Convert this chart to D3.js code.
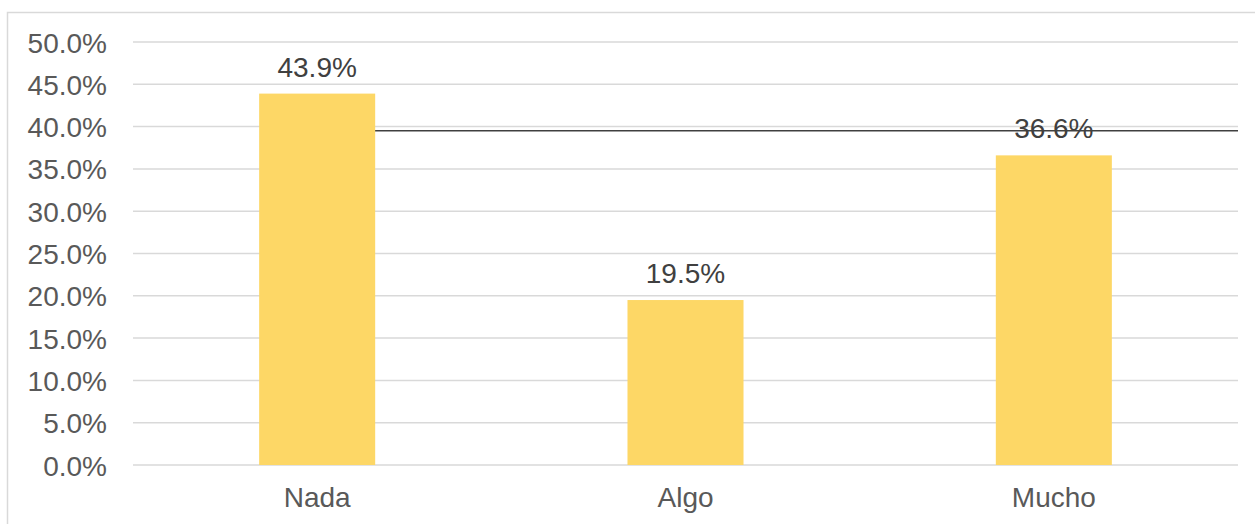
<!DOCTYPE html>
<html>
<head>
<meta charset="utf-8">
<script src="https://cdn.jsdelivr.net/npm/d3@7"></script>
<style>
  body { margin: 0; background: #fff; }
  text { font-family: "Liberation Sans", Arial, sans-serif; }
</style>
</head>
<body>
<div id="chart"></div>
<script>
const width = 1255,
  height = 524,
  margin = { top: 42, bottom: 59, left: 133, right: 17 },
  fontSize = 28;

// data
const categories = ["Nada", "Algo", "Mucho"];
const values = [43.9, 19.5, 36.6];
const refValue = 39.5;
const yTicks = [0, 5, 10, 15, 20, 25, 30, 35, 40, 45, 50];

const svg = d3.select("#chart")
  .append("svg")
  .attr("width", width)
  .attr("height", height);

// chart border
svg.append("rect")
  .attr("x", 7.5)
  .attr("y", 12.5)
  .attr("width", 1260)
  .attr("height", 540)
  .attr("fill", "none")
  .attr("stroke", "#d9d9d9")
  .attr("stroke-width", 1.5);

/* SCALES */
const xScale = d3.scaleBand()
  .domain(categories)
  .range([margin.left, width - margin.right])
  .paddingInner(0.685)
  .paddingOuter(0.3425);

const yScale = d3.scaleLinear()
  .domain([0, 50])
  .range([height - margin.bottom, margin.top]);

// gridlines
svg.append("g")
  .selectAll("line")
  .data(yTicks)
  .join("line")
  .attr("x1", margin.left)
  .attr("x2", width - margin.right)
  .attr("y1", d => yScale(d))
  .attr("y2", d => yScale(d))
  .attr("stroke", "#d9d9d9")
  .attr("stroke-width", 1.5);

// y axis
const yAxis = d3.axisLeft(yScale)
  .tickValues(yTicks)
  .tickSize(0)
  .tickPadding(26)
  .tickFormat(d => d.toFixed(1) + "%");

const yAxisGroup = svg.append("g")
  .attr("transform", `translate(${margin.left}, 0)`)
  .call(yAxis);
yAxisGroup.select(".domain").remove();
yAxisGroup.selectAll("text")
  .attr("font-size", fontSize)
  .attr("dy", "0.36em")
  .attr("fill", "#595959")
  .attr("font-family", "Liberation Sans, Arial, sans-serif");

// x axis
const xAxis = d3.axisBottom(xScale).tickSize(0).tickPadding(22);
const xAxisGroup = svg.append("g")
  .attr("transform", `translate(0, ${height - margin.bottom})`)
  .call(xAxis);
xAxisGroup.select(".domain").remove();
xAxisGroup.selectAll("text")
  .attr("font-size", fontSize)
  .attr("fill", "#595959")
  .attr("font-family", "Liberation Sans, Arial, sans-serif");

// value labels
svg.append("g")
  .selectAll("text")
  .data(categories)
  .join("text")
  .attr("x", d => xScale(d) + xScale.bandwidth() / 2)
  .attr("y", (d, i) => yScale(values[i]) - 17)
  .attr("text-anchor", "middle")
  .attr("font-size", fontSize)
  .attr("fill", "#404040")
  .text((d, i) => values[i].toFixed(1) + "%");

// reference line
svg.append("line")
  .attr("x1", xScale(categories[0]) + xScale.bandwidth() / 2)
  .attr("x2", width - margin.right)
  .attr("y1", yScale(refValue))
  .attr("y2", yScale(refValue))
  .attr("stroke", "#404040")
  .attr("stroke-width", 1.5);

// bars
svg.append("g")
  .selectAll("rect")
  .data(categories)
  .join("rect")
  .attr("x", d => xScale(d))
  .attr("y", (d, i) => yScale(values[i]))
  .attr("width", xScale.bandwidth())
  .attr("height", (d, i) => yScale(0) - yScale(values[i]))
  .attr("fill", "#fdd766");
</script>
</body>
</html>
